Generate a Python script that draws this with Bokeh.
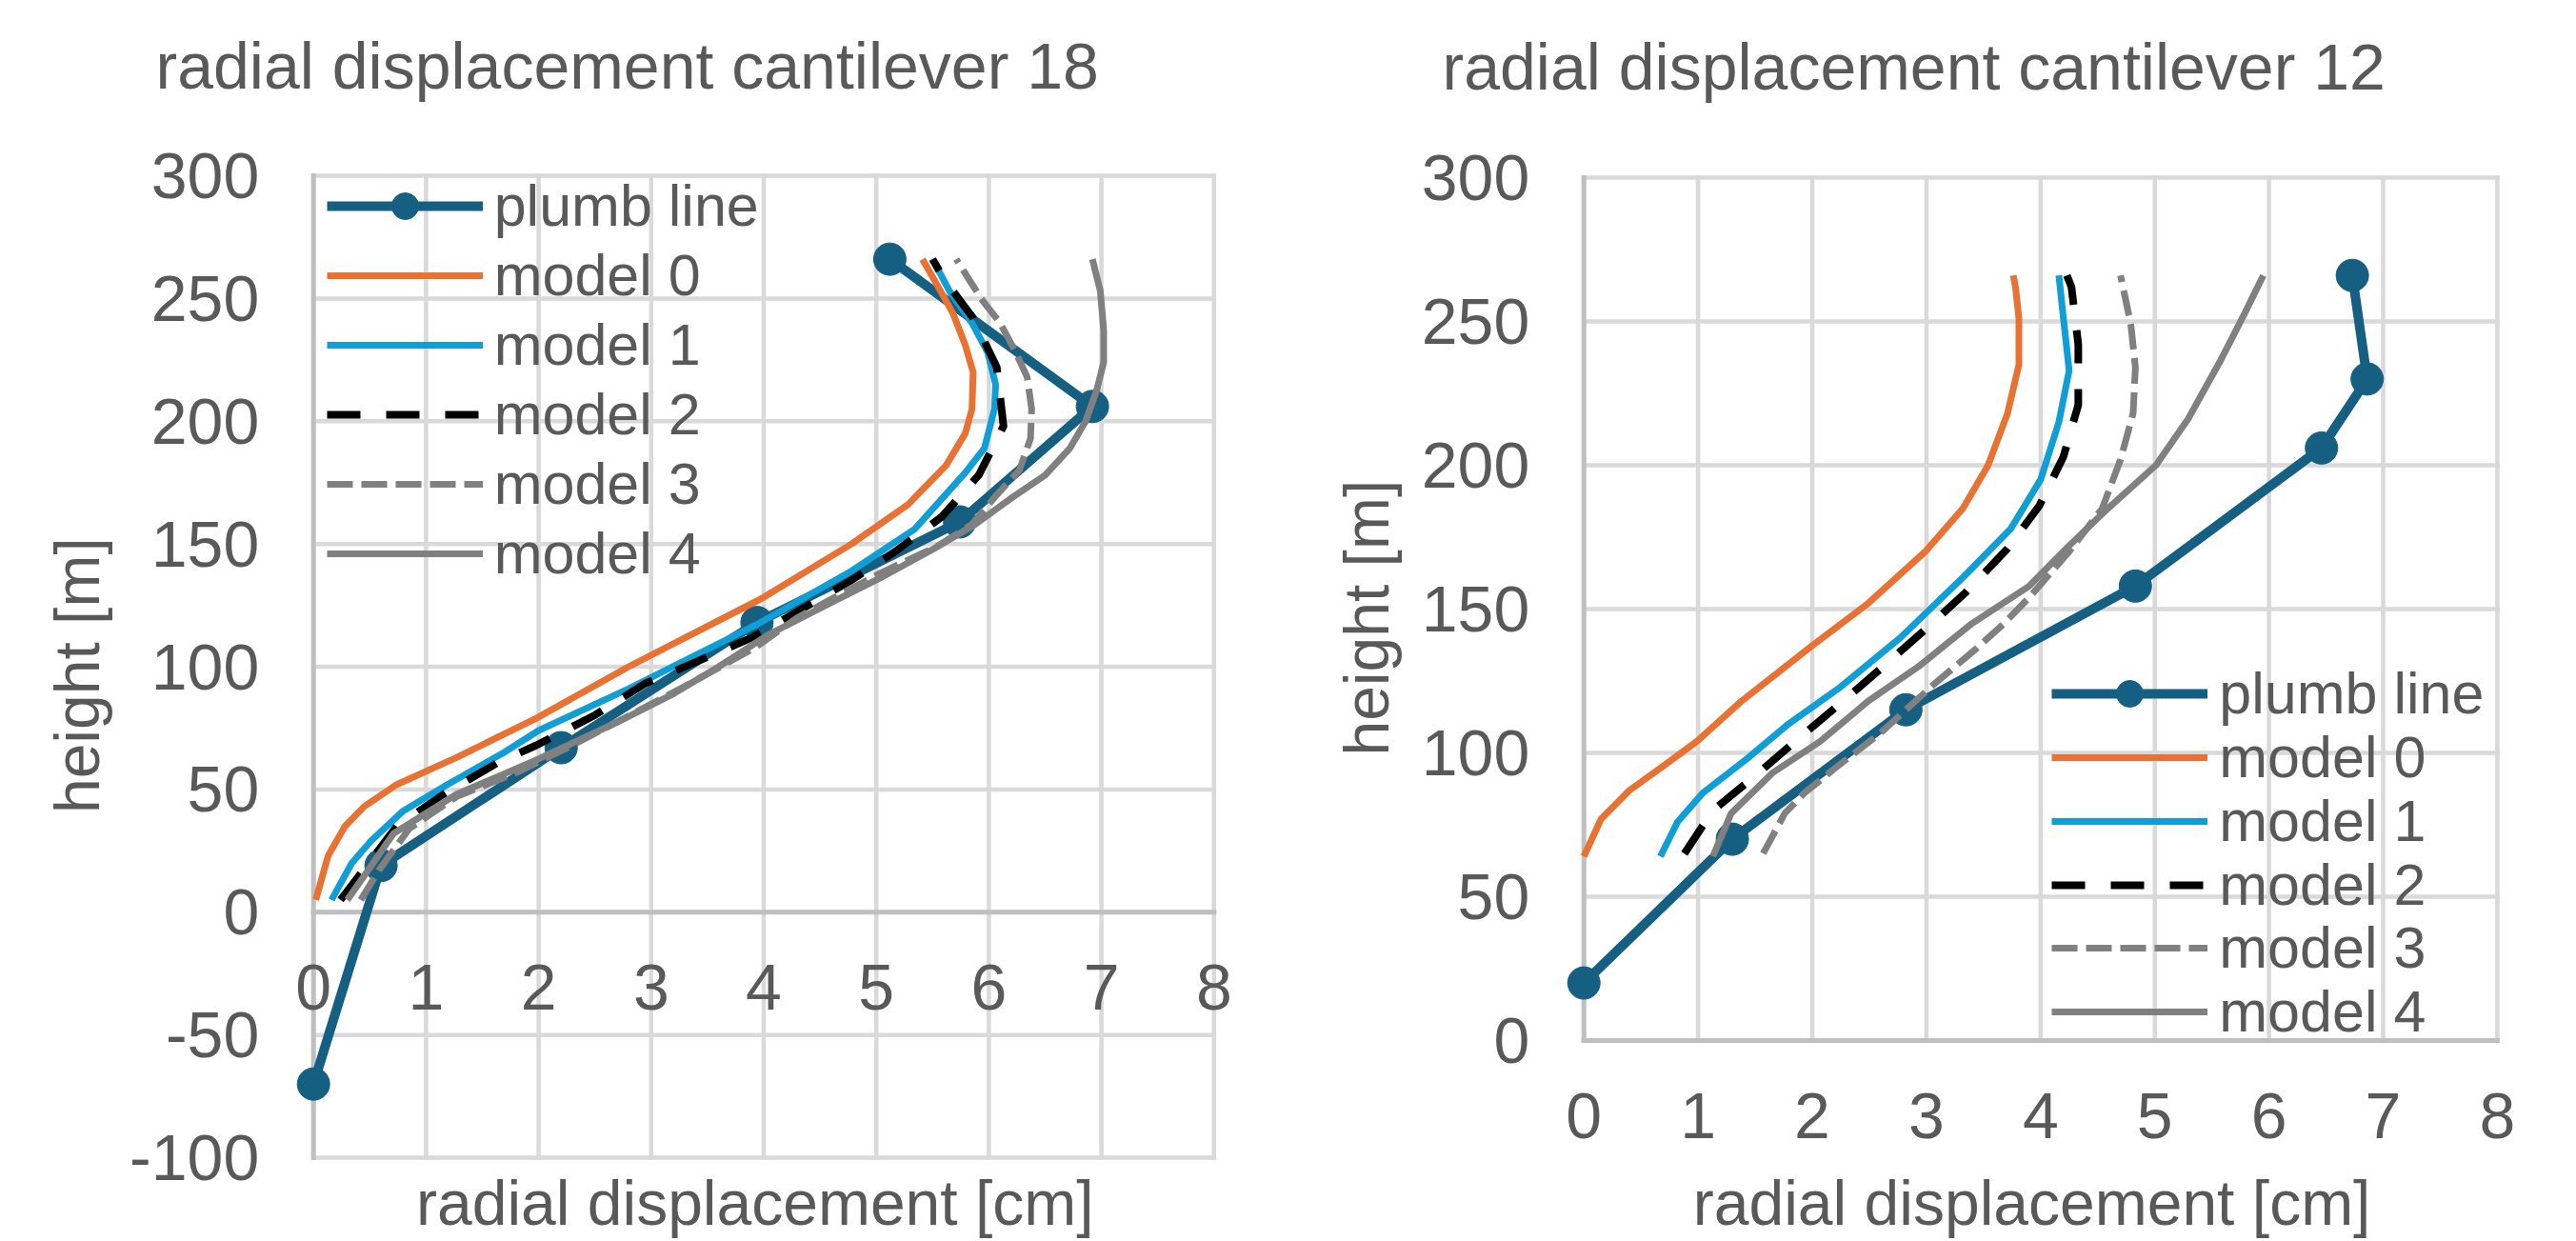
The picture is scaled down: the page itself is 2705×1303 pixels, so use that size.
import math
from bokeh.plotting import figure
from bokeh.models import Range1d, Legend, LegendItem
from bokeh.layouts import row
from bokeh.core.properties import value
from bokeh.embed import file_html
from bokeh.resources import INLINE

FONT = "Liberation Sans"
TXT = "#595959"
GRID = "#d9d9d9"
AXIS = "#bfbfbf"

SERIES = ["plumb line", "model 0", "model 1", "model 2", "model 3", "model 4"]
COLORS = ["#156082", "#E97132", "#0F9ED5", "#000000", "#808080", "#808080"]
X_TICKS = [0, 1, 2, 3, 4, 5, 6, 7, 8]
LEFT_Y_TICKS = [-100, -50, 0, 50, 100, 150, 200, 250, 300]
RIGHT_Y_TICKS = [0, 50, 100, 150, 200, 250, 300]
LEFT_TITLE = "radial displacement  cantilever 18"
RIGHT_TITLE = "radial displacement  cantilever 12"
X_TITLE = "radial displacement  [cm]"
Y_TITLE = "height  [m]"

# ---- cantilever 18 (left) ----
L_PLUMB_X = [0.0, 0.6, 2.2, 3.94, 5.74, 6.92, 5.12]
L_PLUMB_H = [-70, 19, 67, 118, 159, 206, 266]
L_M0_X = [0.02, 0.13, 0.28, 0.45, 0.74, 1.27, 1.98, 2.80, 3.99, 4.78, 5.28, 5.62, 5.79, 5.85, 5.86, 5.79, 5.68, 5.51, 5.41]
L_M0_H = [5, 23, 35, 43, 52, 63, 79, 100, 128, 150, 166, 182, 195, 205, 220, 231, 244, 258, 266]
L_M1_X = [0.16, 0.34, 0.51, 0.79, 1.19, 1.69, 2.00, 2.80, 3.93, 4.78, 5.34, 5.79, 5.96, 6.05, 6.06, 5.99, 5.85, 5.65, 5.50]
L_M1_H = [5, 20, 29, 41, 52, 65, 74, 91, 117, 139, 156, 179, 189, 205, 215, 228, 240, 253, 266]
L_M2_X = [0.24, 0.74, 1.19, 1.64, 1.98, 2.49, 2.94, 3.40, 3.90, 4.32, 4.77, 5.17, 5.58, 5.91, 6.13, 6.07, 5.86, 5.60, 5.50]
L_M2_H = [5, 35, 49, 61, 68, 80, 93, 102, 112, 123, 135, 147, 161, 178, 198, 222, 242, 258, 266]
L_M3_X = [0.42, 0.58, 0.85, 1.27, 1.81, 2.30, 2.80, 3.30, 3.93, 4.30, 4.58, 5.03, 5.54, 5.85, 6.07, 6.27, 6.37, 6.38, 6.34, 6.24, 6.10, 5.93, 5.71]
L_M3_H = [5, 17, 34, 47, 57, 68, 80, 92, 108, 120, 127, 138, 149, 158, 170, 180, 193, 205, 218, 228, 240, 250, 266]
L_M4_X = [0.30, 0.50, 0.71, 1.27, 1.98, 2.68, 3.20, 3.60, 4.04, 4.55, 5.03, 5.51, 5.88, 6.21, 6.50, 6.72, 6.86, 6.96, 7.02, 7.02, 6.99, 6.92]
L_M4_H = [5, 18, 32, 48, 62, 77, 89, 100, 113, 125, 136, 148, 158, 169, 178, 189, 200, 213, 224, 237, 253, 266]

# ---- cantilever 12 (right) ----
R_PLUMB_X = [0.0, 1.3, 2.82, 4.83, 6.46, 6.86, 6.73]
R_PLUMB_H = [20, 70, 115, 158, 206, 230, 266]
R_M0_X = [0.0, 0.15, 0.40, 0.68, 0.99, 1.38, 1.99, 2.49, 2.99, 3.32, 3.54, 3.71, 3.81, 3.81, 3.78, 3.76]
R_M0_H = [64, 77, 87, 95, 104, 118, 137, 152, 170, 185, 200, 218, 235, 251, 262, 266]
R_M1_X = [0.67, 0.82, 1.04, 1.43, 1.79, 2.25, 2.77, 3.32, 3.74, 4.00, 4.16, 4.25, 4.20, 4.16]
R_M1_H = [64, 76, 86, 98, 110, 123, 140, 161, 178, 195, 215, 233, 251, 266]
R_M2_X = [0.88, 1.13, 1.50, 1.88, 2.27, 2.65, 3.02, 3.35, 3.71, 3.99, 4.20, 4.33, 4.33, 4.27, 4.23]
R_M2_H = [65, 80, 92, 105, 118, 131, 144, 156, 171, 186, 203, 221, 242, 262, 266]
R_M3_X = [1.57, 1.76, 1.93, 2.21, 2.60, 3.07, 3.43, 3.68, 3.90, 4.25, 4.54, 4.70, 4.81, 4.83, 4.79, 4.70]
R_M3_H = [65, 79, 86, 95, 107, 124, 136, 145, 154, 170, 185, 202, 218, 234, 249, 266]
R_M4_X = [1.13, 1.29, 1.65, 2.07, 2.49, 2.93, 3.40, 3.90, 4.25, 4.59, 5.01, 5.29, 5.57, 5.79, 5.95]
R_M4_H = [64, 79, 93, 104, 118, 130, 145, 158, 172, 185, 200, 216, 236, 253, 266]

LEFT_DATA = [(L_PLUMB_X, L_PLUMB_H), (L_M0_X, L_M0_H), (L_M1_X, L_M1_H),
             (L_M2_X, L_M2_H), (L_M3_X, L_M3_H), (L_M4_X, L_M4_H)]
RIGHT_DATA = [(R_PLUMB_X, R_PLUMB_H), (R_M0_X, R_M0_H), (R_M1_X, R_M1_H),
              (R_M2_X, R_M2_H), (R_M3_X, R_M3_H), (R_M4_X, R_M4_H)]

STYLES = [
    dict(line_width=10, line_dash="solid"),
    dict(line_width=7, line_dash="solid"),
    dict(line_width=7, line_dash="solid"),
    dict(line_width=8, line_dash="35 27"),
    dict(line_width=7, line_dash="27 9"),
    dict(line_width=7, line_dash="solid"),
]

# ---- page geometry (pixels; the Bokeh page has no body margin) ----
FIG_H = 1303
LEFT_W, RIGHT_W = 1352, 1353
# plot box in page px: x of first tick, x of last tick, y of top tick, y of bottom tick
LEFT_BOX = (328.7, 1274.3, 184.0, 1215.0)
RIGHT_BOX = (1662.7, 2621.9, 186.0, 1092.0)
LEFT_LEGEND_ROWS = [216, 289, 362, 435, 508, 581]
RIGHT_LEGEND_ROWS = [728, 795, 862, 929, 995, 1062]


def build(fig_x0, width, box, y_ticks, data, title, title_px, ytitle_px, xtitle_mid,
          legend_x, legend_rows, row_h):
    xl, xr, yt, yb = box
    y_lo, y_hi = y_ticks[0], y_ticks[-1]
    sx = (xr - xl) / (X_TICKS[-1] - X_TICKS[0])
    sy = (yb - yt) / (y_hi - y_lo)

    def dx(px):
        return X_TICKS[0] + (px - xl) / sx

    def dy(py):
        return y_hi - (py - yt) / sy

    p = figure(width=width, height=FIG_H,
               x_range=Range1d(dx(fig_x0), dx(fig_x0 + width)),
               y_range=Range1d(dy(FIG_H), dy(0)),
               output_backend="svg", toolbar_location=None,
               x_axis_location=None, y_axis_location=None,
               min_border_left=0, min_border_right=0, min_border_top=0, min_border_bottom=0)
    p.outline_line_color = None
    p.background_fill_color = "white"
    p.border_fill_color = "white"
    p.grid.grid_line_color = None

    n_x, n_y = len(X_TICKS), len(y_ticks)
    # grid lines
    p.segment(x0=X_TICKS, y0=[y_lo] * n_x, x1=X_TICKS, y1=[y_hi] * n_x,
              line_color=GRID, line_width=4.5, line_cap="square")
    p.segment(x0=[X_TICKS[0]] * n_y, y0=y_ticks, x1=[X_TICKS[-1]] * n_y, y1=y_ticks,
              line_color=GRID, line_width=4.5, line_cap="square")
    # axis lines (x = 0 and height = 0)
    p.segment(x0=[0, 0], y0=[y_lo, 0], x1=[0, X_TICKS[-1]], y1=[y_hi, 0],
              line_color=AXIS, line_width=5, line_cap="square")

    items = []
    for i, ((xs, hs), name) in enumerate(zip(data, SERIES)):
        st = STYLES[i]
        r = p.line(xs, hs, line_color=COLORS[i], line_width=st["line_width"],
                   line_dash=st["line_dash"], line_join="round")
        rs = [r]
        if i == 0:
            s = p.scatter(xs, hs, size=34, marker="circle", fill_color=COLORS[0],
                          line_color=COLORS[0])
            rs.append(s)
        items.append(LegendItem(label=name, renderers=rs))

    # tick labels
    p.text(x=[0] * n_y, y=y_ticks, text=[str(t) for t in y_ticks],
           text_font=value(FONT), text_font_size=value("68px"), text_color=TXT,
           text_align="right", text_baseline="middle", x_offset=-57)
    p.text(x=X_TICKS, y=[0] * n_x, text=[str(t) for t in X_TICKS],
           text_font=value(FONT), text_font_size=value("68px"), text_color=TXT,
           text_align="center", text_baseline="middle", y_offset=79)
    # titles
    p.text(x=[dx(title_px[0])], y=[dy(title_px[1])], text=[title],
           text_font=value(FONT), text_font_size=value("68px"), text_color=TXT,
           text_align="left", text_baseline="middle")
    p.text(x=[dx(ytitle_px)], y=[(y_lo + y_hi) / 2], text=[Y_TITLE],
           text_font=value(FONT), text_font_size=value("66px"), text_color=TXT,
           text_align="center", text_baseline="middle", angle=math.pi / 2)
    p.text(x=[(X_TICKS[0] + X_TICKS[-1]) / 2], y=[dy(xtitle_mid)], text=[X_TITLE],
           text_font=value(FONT), text_font_size=value("66px"), text_color=TXT,
           text_align="center", text_baseline="middle")

    # legend: one entry per row so each row sits where the reference has it
    for item, cy in zip(items, legend_rows):
        leg = Legend(items=[item], location=(legend_x - fig_x0, FIG_H - (cy + row_h / 2)),
                     padding=0, margin=0, spacing=0,
                     glyph_width=164, glyph_height=row_h, label_height=row_h,
                     label_standoff=12, label_text_font=FONT, label_text_font_size="61px",
                     label_text_color=TXT, background_fill_alpha=0, border_line_color=None)
        p.add_layout(leg, "center")
    return p


left = build(0, LEFT_W, LEFT_BOX, LEFT_Y_TICKS, LEFT_DATA, LEFT_TITLE,
             (163, 68.5), 80, 1262, 342.7, LEFT_LEGEND_ROWS, 70)
right = build(LEFT_W, RIGHT_W, RIGHT_BOX, RIGHT_Y_TICKS, RIGHT_DATA, RIGHT_TITLE,
              (1514, 69.5), 1434, 1262, 2154.3, RIGHT_LEGEND_ROWS, 70)

layout = row(left, right)
open("out.html", "w").write(file_html(layout, INLINE))
